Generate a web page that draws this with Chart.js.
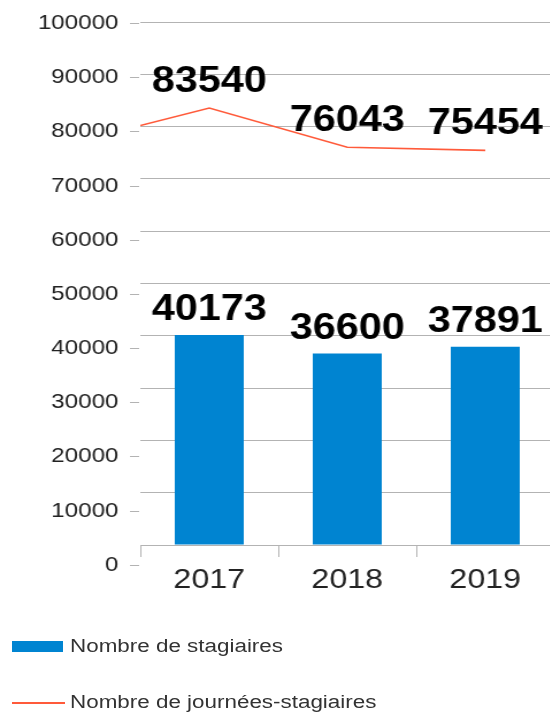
<!DOCTYPE html>
<html>
<head>
<meta charset="utf-8">
<script src="https://cdn.jsdelivr.net/npm/chart.js@4/dist/chart.umd.min.js"></script>
<style>
  html, body { margin: 0; padding: 0; background: #fff; }
  body { width: 550px; height: 713px; overflow: hidden; position: relative; }
  #wrap { position: absolute; left: 0; top: 0; width: 560px; height: 713px; }
  .leg { position: absolute; left: 12px; font-family: "Liberation Sans", Arial, sans-serif; font-size: 18px; color: #333; }
  .leg .sw { position: absolute; left: 0; }
  .leg .tx { position: absolute; left: 58px; white-space: nowrap; transform: scaleX(1.245); transform-origin: left center; line-height: 18px; }
</style>
</head>
<body>
<div id="wrap"><canvas id="c" width="487" height="713" style="width:560px;height:713px;display:block"></canvas></div>
<div id="legend"></div>
<script>
// ---- data ----
const categories = ['2017', '2018', '2019'];
const seriesNames = ['Nombre de stagiaires', 'Nombre de journées-stagiaires'];
const stagiaires = [40173, 36600, 37891];
const journees = [83540, 76043, 75454];
const journeesLead = 80200;   // where the line enters at the left edge of the plot
const yMin = 0, yMax = 100000, yStep = 10000;

// ---- styles ----
const BLUE = '#0084d1';
const ORANGE = '#ff5a3a';
const GRID = '#b3b3b3';
const LABEL_SPREAD = 1.036;

const lineData = [{x: 0, y: journeesLead}].concat(journees.map((v, i) => ({x: i + 0.5, y: v})));

const valueLabels = {
  id: 'valueLabels',
  afterDatasetsDraw(chart) {
    const ctx = chart.ctx;
    ctx.save();
    ctx.font = 'bold 36px "Liberation Sans", Arial, sans-serif';
    ctx.fillStyle = '#000';
    ctx.textAlign = 'center';
    ctx.textBaseline = 'alphabetic';
    chart.getDatasetMeta(0).data.forEach((el, i) => {
      ctx.fillText(String(stagiaires[i]), el.x, el.y - 15);
    });
    chart.getDatasetMeta(1).data.forEach((el, i) => {
      if (i === 0) return;
      ctx.fillText(String(journees[i - 1]), el.x, el.y - 16);
    });
    ctx.restore();
  }
};

const yLabels = {
  id: 'yLabels',
  afterDraw(chart) {
    const s = chart.scales.y, ctx = chart.ctx;
    ctx.save();
    ctx.font = '21px "Liberation Sans", Arial, sans-serif';
    ctx.fillStyle = '#222';
    ctx.textAlign = 'right';
    ctx.textBaseline = 'middle';
    ctx.strokeStyle = GRID;
    ctx.lineWidth = 1;
    s.ticks.forEach(t => {
      const p = s.getPixelForValue(t.value);
      const y = Math.round(s.top + 1 + (p - s.top) * LABEL_SPREAD) + 0.5;
      ctx.beginPath();
      ctx.moveTo(s.right - 9, y);
      ctx.lineTo(s.right - 1, y);
      ctx.stroke();
      ctx.fillText(String(t.value), s.right - 19, y);
    });
    ctx.restore();
  }
};

new Chart(document.getElementById('c'), {
  data: {
    labels: categories,
    datasets: [
      {
        type: 'bar',
        label: seriesNames[0],
        data: stagiaires,
        backgroundColor: BLUE,
        borderWidth: 0,
        grouped: false,
        barPercentage: 0.5,
        categoryPercentage: 1.0,
        xAxisID: 'x',
        order: 2
      },
      {
        type: 'line',
        label: seriesNames[1],
        data: lineData,
        borderColor: ORANGE,
        backgroundColor: ORANGE,
        borderWidth: 1.6,
        pointRadius: 0,
        tension: 0,
        fill: false,
        xAxisID: 'xl',
        order: 1
      }
    ]
  },
  options: {
    responsive: false,
    animation: false,
    devicePixelRatio: 1,
    layout: { padding: { top: 22, bottom: 108, left: 0, right: 5 } },
    plugins: { legend: { display: false }, tooltip: { enabled: false } },
    scales: {
      x: {
        type: 'category',
        offset: true,
        grid: { display: true, drawOnChartArea: false, drawTicks: true, tickLength: 12, offset: true, color: GRID },
        border: { display: true, color: GRID },
        ticks: { color: '#222', font: { family: '"Liberation Sans", Arial, sans-serif', size: 28 }, padding: 6, maxRotation: 0 },
        afterFit: s => { s.height = 60; }
      },
      xl: {
        type: 'linear',
        display: false,
        min: 0,
        max: categories.length
      },
      y: {
        min: yMin,
        max: yMax,
        ticks: { stepSize: yStep, display: false },
        grid: { color: GRID, drawTicks: false },
        border: { display: false },
        afterFit: s => { s.width = 122; }
      }
    }
  },
  plugins: [valueLabels, yLabels]
});

// ---- legend (HTML) ----
const leg = document.getElementById('legend');
const rows = [
  { top: 641, name: seriesNames[0], sw: `<div class="sw" style="top:0;width:51px;height:11px;background:${BLUE}"></div>`, txTop: -4 },
  { top: 702, name: seriesNames[1], sw: `<div class="sw" style="top:0;width:53px;height:1.6px;background:${ORANGE}"></div>`, txTop: -9 }
];
rows.forEach(r => {
  const d = document.createElement('div');
  d.className = 'leg';
  d.style.top = r.top + 'px';
  d.innerHTML = r.sw + `<div class="tx" style="top:${r.txTop}px">${r.name}</div>`;
  leg.appendChild(d);
});
</script>
</body>
</html>
